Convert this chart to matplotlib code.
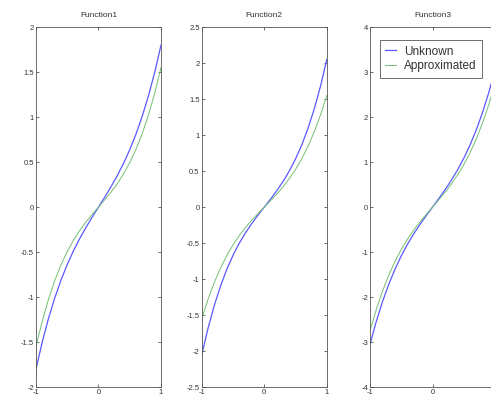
import matplotlib
matplotlib.use('Agg')
import matplotlib.pyplot as plt
from   matplotlib.ticker import FormatStrFormatter, MultipleLocator

plt.rcParams['font.family']        = ['Liberation Sans', 'DejaVu Sans']
plt.rcParams['axes.unicode_minus'] = False

x = [-1.0, -0.9, -0.8, -0.7, -0.6, -0.5, -0.4, -0.3, -0.2, -0.1, 0.0,
      0.1,  0.2,  0.3,  0.4,  0.5,  0.6,  0.7,  0.8,  0.9, 1.0]

# Function1
unknown1 = [-1.80, -1.500, -1.238, -1.010, -0.811, -0.638, -0.485, -0.349, -0.226, -0.111, 0.0,
             0.111, 0.226, 0.349, 0.485, 0.638, 0.811, 1.010, 1.238, 1.500, 1.80]
approx1  = [-1.55, -1.267, -1.024, -0.817, -0.642, -0.494, -0.368, -0.260, -0.166, -0.081, 0.0,
             0.081, 0.166, 0.260, 0.368, 0.494, 0.642, 0.817, 1.024, 1.267, 1.55]
# Function2
unknown2 = [-2.05, -1.683, -1.366, -1.096, -0.865, -0.669, -0.501, -0.356, -0.228, -0.111, 0.0,
             0.111, 0.228, 0.356, 0.501, 0.669, 0.865, 1.096, 1.366, 1.683, 2.05]
approx2  = [-1.55, -1.280, -1.047, -0.846, -0.673, -0.524, -0.395, -0.282, -0.181, -0.089, 0.0,
             0.089, 0.181, 0.282, 0.395, 0.524, 0.673, 0.846, 1.047, 1.280, 1.55]
# Function3
unknown3 = [-3.05, -2.544, -2.102, -1.716, -1.379, -1.084, -0.825, -0.594, -0.384, -0.189, 0.0,
             0.189, 0.384, 0.594, 0.825, 1.084, 1.379, 1.716, 2.102, 2.544, 3.05]
approx3  = [-2.75, -2.278, -1.867, -1.513, -1.207, -0.942, -0.712, -0.510, -0.328, -0.161, 0.0,
             0.161, 0.328, 0.510, 0.712, 0.942, 1.207, 1.513, 1.867, 2.278, 2.75]

titles  = ['Function1', 'Function2', 'Function3']
ylims   = [(-2, 2), (-2.5, 2.5), (-4, 4)]
ysteps  = [0.5, 0.5, 1]
lefts   = [0.0733, 0.411, 0.7536]   # third panel runs past the right edge
series  = [(unknown1, approx1), (unknown2, approx2), (unknown3, approx3)]

fig = plt.figure(figsize=(4.91, 3.99), dpi=100)

for i in range(3):
    ax = fig.add_axes([lefts[i], 0.030, 0.2546, 0.902])
    u, a = series[i]
    ax.plot(x, u, color=(0.35, 0.35, 1.0), lw=0.9, label='Unknown')
    ax.plot(x, a, color=(0.45, 0.75, 0.45), lw=0.7, label='Approximated')

    ax.set_xlim(-1, 1)
    ax.set_ylim(*ylims[i])
    ax.set_xticks([-1, 0, 1])
    if i == 2:
        ax.set_xticklabels(['-1', '0', ''])   # the '1' falls off the picture
    else:
        ax.xaxis.set_major_formatter(FormatStrFormatter('%g'))
    ax.yaxis.set_major_locator(MultipleLocator(ysteps[i]))
    ax.yaxis.set_major_formatter(FormatStrFormatter('%g'))
    ax.tick_params(direction='in', length=2, width=0.5, labelsize=5.5,
                   top=True, right=True, pad=1.5, colors='#333333')
    for s in ax.spines.values():
        s.set_linewidth(0.6)
        s.set_color('#555555')
    ax.set_title(titles[i], fontsize=6, pad=7, color='#333333')

    if i == 2:
        leg = ax.legend(loc='upper left', fontsize=8.5, handlelength=0.9,
                        handletextpad=0.7, borderpad=0.45, labelspacing=0.25,
                        fancybox=False, framealpha=1, edgecolor='#555555',
                        bbox_to_anchor=(0.03, 0.98))
        leg.get_frame().set_linewidth(0.6)
        for t in leg.get_texts():
            t.set_color('#333333')

fig.savefig('out.png', dpi=100)
